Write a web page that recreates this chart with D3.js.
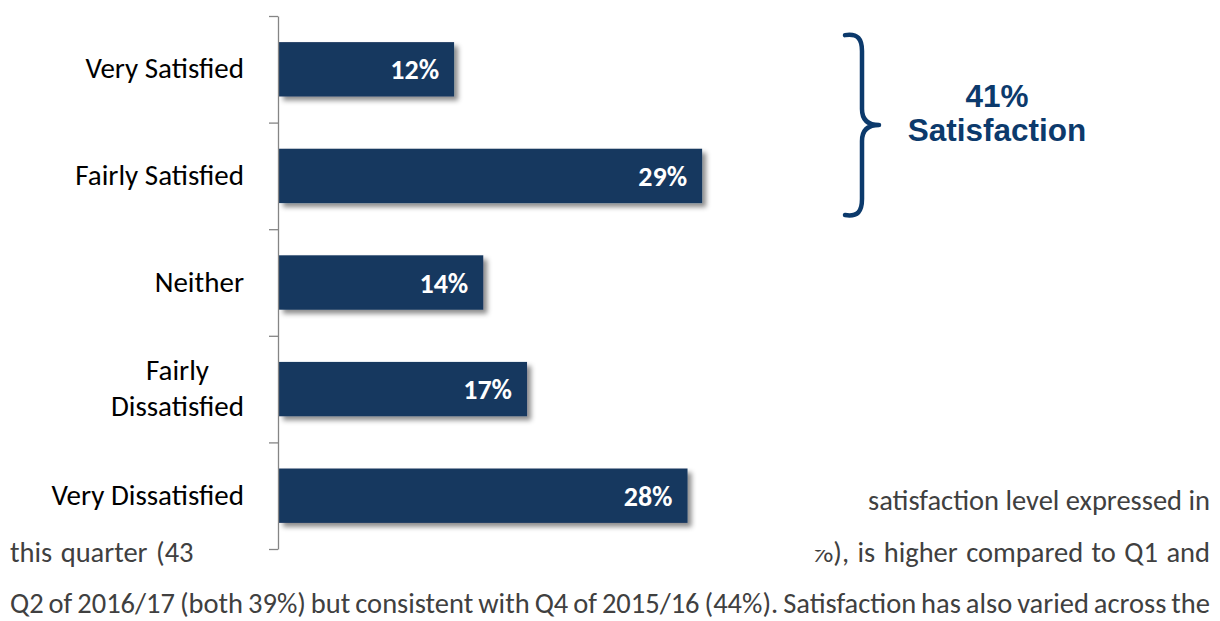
<!DOCTYPE html>
<html>
<head>
<meta charset="utf-8">
<script src="https://cdn.jsdelivr.net/npm/d3@7"></script>
<style>
  body { margin: 0; background: #fff; }
  svg { display: block; }
</style>
</head>
<body>
<svg id="chart" width="1220" height="621"></svg>
<script>
// Survey responses: overall satisfaction this quarter
const categories = ["Very Satisfied", "Fairly Satisfied", "Neither", "Fairly Dissatisfied", "Very Dissatisfied"];
const categoryLines = [["Very Satisfied"], ["Fairly Satisfied"], ["Neither"], ["Fairly", "Dissatisfied"], ["Very Dissatisfied"]];
const values = [12, 29, 14, 17, 28];
const satisfiedGroup = ["Very Satisfied", "Fairly Satisfied"];
const calloutWord = "Satisfaction";

// Surrounding report text (the parts not under the chart)
const textLine1Right = "satisfaction level expressed in";
const textLine2Left = "this quarter (43";
const textLine2Right = "%), is higher compared to Q1 and";
const textLine3 = "Q2 of 2016/17 (both 39%) but consistent with Q4 of 2015/16 (44%). Satisfaction has also varied across the";

const W = 1220, H = 621;
const svg = d3.select("#chart");
const bodyFont = "Carlito, Calibri, Lato, 'Open Sans', sans-serif";
const navy = "#17375e";
const accent = "#0c3a6c";

svg.append("rect").attr("width", W).attr("height", H).attr("fill", "#fff");

// ---- report paragraph, justified between x=10 and x=1210 ----
const para = svg.append("g")
  .attr("font-family", bodyFont)
  .attr("font-size", 28.5)
  .attr("fill", "#404040");

function fitLine(str, x0, x1, baseline) {
  const t = para.append("text").attr("x", x0).attr("y", baseline).text(str);
  const natural = t.node().getComputedTextLength();
  const gaps = (str.match(/ /g) || []).length;
  const ws = gaps > 0 ? (x1 - x0 - natural) / gaps : 0;
  t.attr("word-spacing", ws);
  return ws;
}
fitLine(textLine1Right, 868, 1210, 510);
// both halves of the second line share one justified word spacing
const line2Spacing = fitLine(textLine2Right, 813, 1210, 562);
para.append("text").attr("x", 10).attr("y", 562)
  .attr("word-spacing", line2Spacing).text(textLine2Left);
fitLine(textLine3, 10, 1210, 613);

// ---- chart ----
const chart = svg.append("g");
chart.append("rect")
  .attr("x", 240).attr("y", 0).attr("width", 594).attr("height", 550)
  .attr("fill", "#fff");

const defs = svg.append("defs");
const f = defs.append("filter").attr("id", "barShadow")
  .attr("x", "-5%").attr("y", "-20%").attr("width", "115%").attr("height", "160%");
f.append("feDropShadow")
  .attr("dx", 4).attr("dy", 4).attr("stdDeviation", 2.6)
  .attr("flood-color", "#000").attr("flood-opacity", 0.45);

const plotTop = 16, plotBottom = 549, plotLeft = 279;
const y = d3.scaleBand().domain(categories).range([plotTop, plotBottom])
  .paddingInner(0.49).paddingOuter(0.245);
const x = d3.scaleLinear().domain([0, 40]).range([plotLeft, plotLeft + 583.6]);

// bars
chart.selectAll("rect.bar")
  .data(values)
  .join("rect")
  .attr("class", "bar")
  .attr("x", x(0))
  .attr("y", (d, i) => y(categories[i]))
  .attr("width", d => x(d) - x(0))
  .attr("height", y.bandwidth())
  .attr("fill", navy)
  .attr("filter", "url(#barShadow)");

// value labels inside bar ends
chart.selectAll("text.val")
  .data(values)
  .join("text")
  .attr("class", "val")
  .attr("x", d => x(d) - 15)
  .attr("y", (d, i) => y(categories[i]) + y.bandwidth() / 2 + 10)
  .attr("text-anchor", "end")
  .attr("font-family", bodyFont)
  .attr("font-weight", "bold")
  .attr("font-size", 28)
  .attr("fill", "#fff")
  .text(d => d + "%");

// category axis: tick marks sit on the boundaries between categories
const yEdge = d3.scaleLinear().domain([0, categories.length]).range([plotTop, plotBottom]);
const axisG = chart.append("g")
  .attr("transform", `translate(${plotLeft - 1},0)`)
  .call(d3.axisLeft(yEdge)
    .tickValues(d3.range(0, categories.length + 1))
    .tickSize(9).tickSizeOuter(0).tickFormat(""));
axisG.selectAll("path, line").attr("stroke", "#858585").attr("stroke-width", 1.3);

// category labels
const labels = chart.append("g")
  .attr("font-family", bodyFont)
  .attr("font-size", 29)
  .attr("fill", "#000");
categories.forEach((c, i) => {
  const lines = categoryLines[i];
  const cy = y(c) + y.bandwidth() / 2;
  const lh = 35.7;
  const multi = lines.length > 1;
  const t = labels.append("text")
    .attr("text-anchor", multi ? "middle" : "end");
  lines.forEach((ln, k) => {
    t.append("tspan")
      .attr("x", multi ? 0 : 244)
      .attr("y", cy + 9 + (k - (lines.length - 1) / 2) * lh)
      .text(ln);
  });
  if (multi) {
    // centre the stacked lines, keeping the widest one flush at the label edge
    const w = d3.max(t.selectAll("tspan").nodes(), n => n.getComputedTextLength());
    t.selectAll("tspan").attr("x", 244 - w / 2);
  }
});

// ---- callout: brace across the satisfied categories ----
const bTop = y(satisfiedGroup[0]) - 9;
const bBot = y(satisfiedGroup[1]) + y.bandwidth() + 14;
const bMid = (bTop + bBot) / 2;
const bx = 862, tipX = 879, endX = 845;
const brace = d3.path();
brace.moveTo(endX, bTop + 2);
brace.bezierCurveTo(bx - 4, bTop, bx, bTop + 6, bx, bTop + 18);
brace.lineTo(bx, bMid - 16);
brace.bezierCurveTo(bx, bMid - 5, bx + 6, bMid, tipX, bMid);
brace.bezierCurveTo(bx + 6, bMid, bx, bMid + 5, bx, bMid + 16);
brace.lineTo(bx, bBot - 18);
brace.bezierCurveTo(bx, bBot - 6, bx - 4, bBot, endX, bBot - 2);
svg.append("path")
  .attr("d", brace.toString())
  .attr("fill", "none")
  .attr("stroke", accent)
  .attr("stroke-width", 4.5)
  .attr("stroke-linecap", "round")
  .attr("stroke-linejoin", "round");

const satisfiedTotal = d3.sum(satisfiedGroup, c => values[categories.indexOf(c)]);
const callout = svg.append("text")
  .attr("text-anchor", "middle")
  .attr("font-family", "'Liberation Sans', Arial, sans-serif")
  .attr("font-weight", "bold")
  .attr("font-size", 31.5)
  .attr("fill", accent);
callout.append("tspan").attr("x", 997).attr("y", 107).text(satisfiedTotal + "%");
callout.append("tspan").attr("x", 997).attr("y", 141).text(calloutWord);
</script>
</body>
</html>
